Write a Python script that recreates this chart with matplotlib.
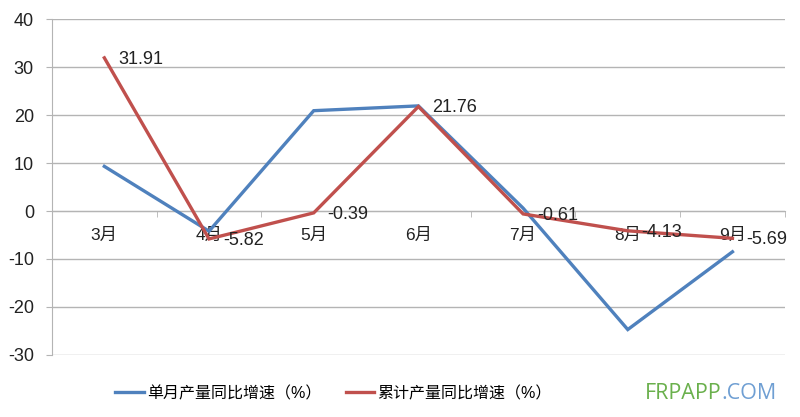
import matplotlib
matplotlib.use('Agg')
import matplotlib.pyplot as plt
from matplotlib.lines import Line2D

plt.rcParams['font.family'] = ['Liberation Sans', 'Noto Sans CJK SC', 'DejaVu Sans']
plt.rcParams['axes.unicode_minus'] = False

months = ['3月', '4月', '5月', '6月', '7月', '8月', '9月']
monthly = [9.3, -4.2, 20.9, 21.9, 0.6, -24.7, -8.5]
cumulative = [31.91, -5.82, -0.39, 21.76, -0.61, -4.13, -5.69]
cum_labels = ['31.91', '-5.82', '-0.39', '21.76', '-0.61', '-4.13', '-5.69']
yticks = [-30, -20, -10, 0, 10, 20, 30, 40]
legend_names = ['单月产量同比增速（%）', '累计产量同比增速（%）']

blue = '#4f81bd'
red = '#c0504d'
grid = '#b4b4b4'

fig = plt.figure(figsize=(8, 4.17), dpi=100)
ax = fig.add_axes([0.065, 0.1487, 0.916, 0.8057])

x = list(range(len(months)))
ax.plot(x, monthly, color=blue, lw=2.4, solid_joinstyle='miter', zorder=3)
ax.plot(x, cumulative, color=red, lw=2.4, solid_joinstyle='miter', zorder=4)

for xi, v, s in zip(x, cumulative, cum_labels):
    ax.annotate(s, (xi, v), xytext=(10, -1), textcoords='offset points',
                ha='left', va='center', fontsize=13, color='#222222', zorder=5)

ax.set_xlim(-0.5, len(months) - 0.5)
ax.set_ylim(-30, 40)
ax.set_yticks(yticks)
ax.yaxis.grid(True, color=grid, lw=1)
ax.set_axisbelow(True)

for side in ['top', 'right']:
    ax.spines[side].set_visible(False)
ax.spines['left'].set_color(grid)
ax.spines['bottom'].set_color(grid)
ax.spines['bottom'].set_position(('data', 0))

ax.set_xticks(x)
ax.set_xticklabels(months)
ax.set_xticks([i - 0.5 for i in range(len(months) + 1)], minor=True)
ax.tick_params(axis='x', which='major', length=0, pad=12, labelsize=12.5, colors='#222222')
ax.tick_params(axis='x', which='minor', length=4, color=grid, direction='out')
ax.tick_params(axis='y', length=4, color=grid, pad=9, labelsize=13, labelcolor='#222222')

handles = [Line2D([], [], color=blue, lw=2.4), Line2D([], [], color=red, lw=2.4)]
fig.legend(handles, legend_names, loc='center', bbox_to_anchor=(0.417, 0.057),
           ncol=2, frameon=False, handlelength=1.8, handletextpad=0.2,
           columnspacing=1.5, prop={'size': 11.5})

wm_font = ['Open Sans', 'DejaVu Sans']
t = fig.text(0.806, 0.057, 'FRPAPP', color='#6ab04c', fontsize=15.5,
             family=wm_font, va='center', ha='left')
ax.annotate('.COM', xy=(1, 0), xycoords=t, xytext=(0, 0), textcoords='offset points',
            color='#6f9fd3', fontsize=15.5, family=wm_font,
            va='bottom', ha='left', annotation_clip=False)

fig.savefig('out.png', dpi=100)
